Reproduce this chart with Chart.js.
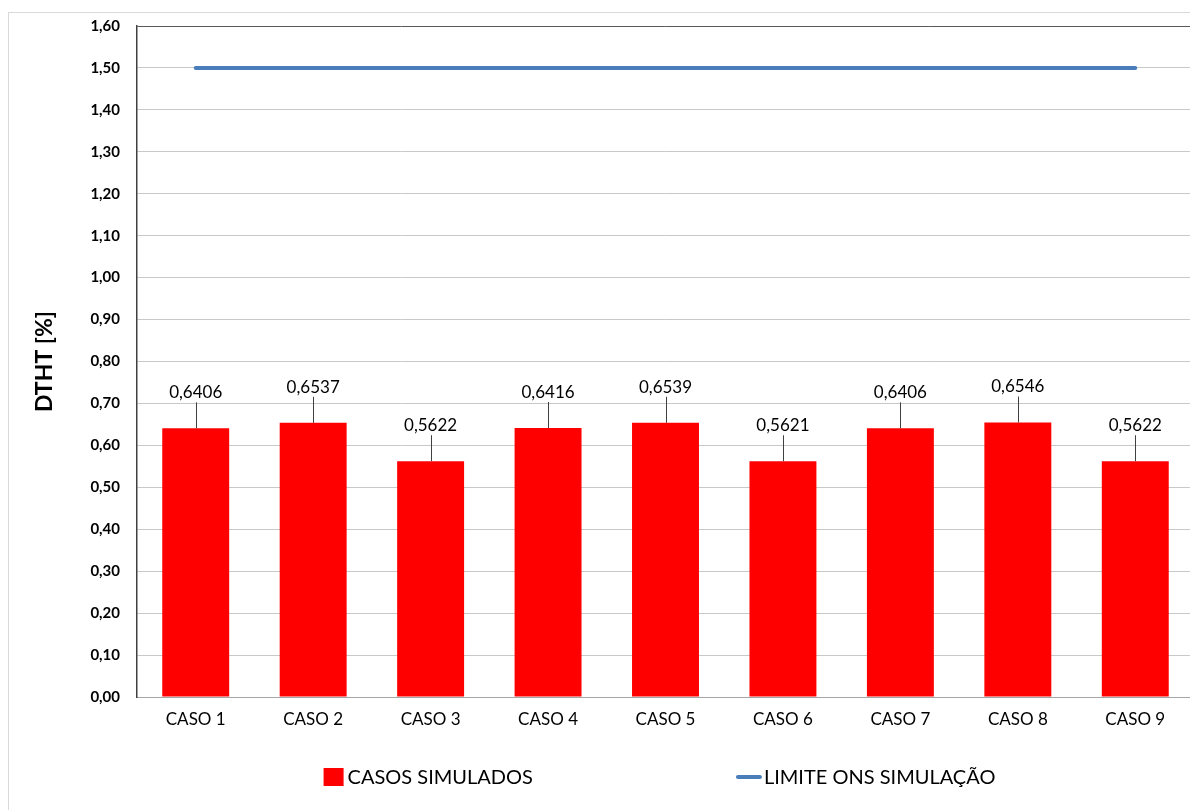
<!DOCTYPE html>
<html>
<head>
<meta charset="utf-8">
<script src="https://cdn.jsdelivr.net/npm/chart.js@4.4.1/dist/chart.umd.min.js"></script>
<style>
  html, body { margin: 0; padding: 0; background: #fff; overflow: hidden; width: 1190px; height: 810px; }
  #frame { position: absolute; left: 8px; top: 12px; width: 1200px; height: 830px; border: 1px solid #d9d9d9; }
  #wrap { position: absolute; left: 0; top: 0; width: 1200px; height: 810px; }
</style>
</head>
<body>
<div id="frame"></div>
<div id="wrap"><canvas id="c"></canvas></div>
<script>
// Cases and DTHT results
const categories = ['CASO 1', 'CASO 2', 'CASO 3', 'CASO 4', 'CASO 5', 'CASO 6', 'CASO 7', 'CASO 8', 'CASO 9'];
const simulated = [0.6406, 0.6537, 0.5622, 0.6416, 0.6539, 0.5621, 0.6406, 0.6546, 0.5622];
const limitOns = [1.50, 1.50, 1.50, 1.50, 1.50, 1.50, 1.50, 1.50, 1.50];
const seriesNames = ['CASOS SIMULADOS', 'LIMITE ONS SIMULAÇÃO'];
const axisTitle = 'DTHT [%]';

const FONT = 'Lato, "Open Sans", sans-serif';
const comma = (v, d) => v.toFixed(d).replace('.', ',');

// Value labels above bars, joined to the bar top by a short leader line
const leaderLabels = {
  id: 'leaderLabels',
  afterDatasetsDraw(chart) {
    const meta = chart.getDatasetMeta(0);
    const ctx = chart.ctx;
    ctx.save();
    ctx.font = '17px ' + FONT;
    ctx.fillStyle = '#000';
    ctx.textAlign = 'center';
    ctx.textBaseline = 'bottom';
    ctx.strokeStyle = '#404040';
    ctx.lineWidth = 1;
    meta.data.forEach((bar, i) => {
      const v = chart.data.datasets[0].data[i];
      const x = Math.round(bar.x) + 0.5;
      const top = bar.y;
      const lineTop = top - 26;
      ctx.beginPath();
      ctx.moveTo(x, top);
      ctx.lineTo(x, lineTop);
      ctx.stroke();
      ctx.fillText(comma(v, 4), bar.x, lineTop - 1);
    });
    ctx.restore();
  }
};

// Legend row below the axis
const bottomLegend = {
  id: 'bottomLegend',
  afterDraw(chart) {
    const ctx = chart.ctx;
    const ds = chart.data.datasets;
    const y = 777;
    const gap = 203;
    ctx.save();
    ctx.font = '20px ' + FONT;
    ctx.textBaseline = 'middle';
    ctx.textAlign = 'left';
    const w0 = 20 + 4 + ctx.measureText(ds[0].label).width;
    const w1 = 26 + 2 + ctx.measureText(ds[1].label).width;
    const total = w0 + gap + w1;
    const cx = (chart.chartArea.left + chart.chartArea.right) / 2 - 6;
    let x = cx - total / 2;
    ctx.fillStyle = ds[0].backgroundColor;
    ctx.fillRect(x, y - 9, 20, 18);
    ctx.fillStyle = '#000';
    ctx.fillText(ds[0].label, x + 24, y + 1);
    x += w0 + gap;
    ctx.strokeStyle = ds[1].borderColor;
    ctx.lineWidth = 4;
    ctx.lineCap = 'round';
    ctx.beginPath();
    ctx.moveTo(x + 2, y);
    ctx.lineTo(x + 24, y);
    ctx.stroke();
    ctx.fillStyle = '#000';
    ctx.fillText(ds[1].label, x + 28, y + 1);
    ctx.restore();
  }
};

new Chart(document.getElementById('c'), {
  data: {
    labels: categories,
    datasets: [
      {
        type: 'bar',
        label: seriesNames[0],
        data: simulated,
        backgroundColor: '#ff0000',
        borderWidth: 0,
        categoryPercentage: 1,
        barPercentage: 0.57,
        order: 2
      },
      {
        type: 'line',
        label: seriesNames[1],
        data: limitOns,
        borderColor: '#4a7ebb',
        backgroundColor: '#4a7ebb',
        borderWidth: 4,
        borderCapStyle: 'round',
        pointRadius: 0,
        fill: false,
        order: 1
      }
    ]
  },
  options: {
    responsive: true,
    maintainAspectRatio: false,
    animation: false,
    layout: { padding: { top: 20, right: 6, left: 0, bottom: 0 } },
    plugins: {
      legend: { display: false },
      tooltip: { enabled: false },
      title: { display: false }
    },
    scales: {
      x: {
        afterFit(s) { s.height = 113; },
        grid: { display: false, drawTicks: false },
        border: { display: true, color: '#a6a6a6', width: 1 },
        ticks: { color: '#000', font: { family: FONT, size: 17 }, padding: 12 }
      },
      y: {
        min: 0,
        max: 1.6,
        afterFit(s) { s.width = 137; },
        ticks: {
          stepSize: 0.1,
          color: '#000',
          padding: 17,
          font: { family: FONT, size: 15, weight: 'bold' },
          callback: v => comma(v, 2)
        },
        grid: {
          drawTicks: false,
          lineWidth: 1,
          color: c => (c.tick && Math.abs(c.tick.value - 1.6) < 1e-6) ? '#595959' : '#c8c8c8'
        },
        border: { display: true, color: '#404040', width: 1.5 },
        title: {
          display: true,
          text: axisTitle,
          color: '#000',
          font: { family: FONT, size: 23, weight: 'bold' },
          padding: { top: 31, bottom: 0 }
        }
      }
    }
  },
  plugins: [leaderLabels, bottomLegend]
});
</script>
</body>
</html>
